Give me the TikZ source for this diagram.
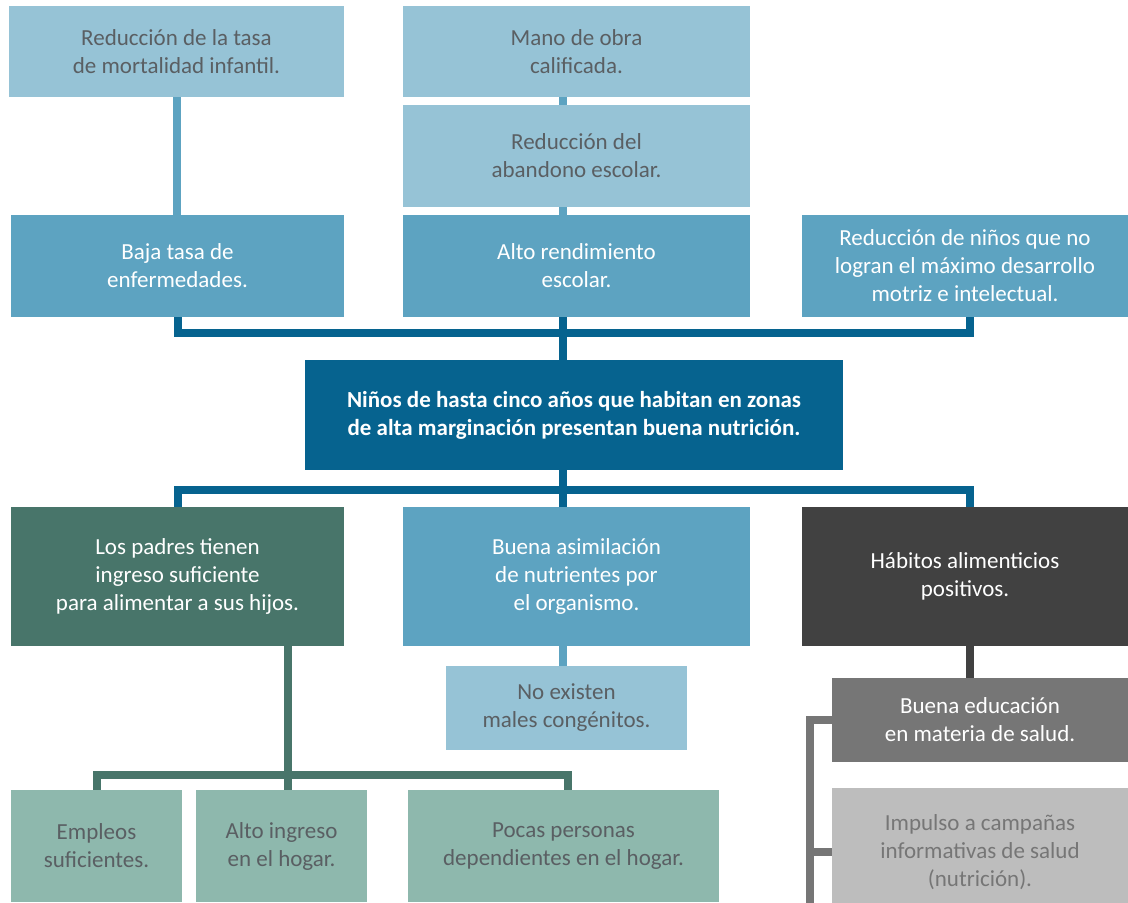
\documentclass[tikz,border=0pt]{standalone}
\usepackage{fontspec}
\setmainfont{Carlito}
\definecolor{lblue}{HTML}{96C3D6}
\definecolor{mblue}{HTML}{5DA3C1}
\definecolor{dblue}{HTML}{06638F}
\definecolor{dgreen}{HTML}{48756A}
\definecolor{lgreen}{HTML}{8EB8AD}
\definecolor{dgrey}{HTML}{414141}
\definecolor{mgrey}{HTML}{767676}
\definecolor{lgrey}{HTML}{BDBDBD}
\definecolor{txtgrey}{HTML}{5A5F63}
\begin{document}
\begin{tikzpicture}[x=0.5pt,y=-0.5pt,
  box/.style 2 args={rectangle,inner sep=0pt,align=center,
    minimum width=0.5pt*#1,minimum height=0.5pt*#2,
    font=\fontsize{11.5}{14}\selectfont},
  pale/.style={fill=lblue,text=txtgrey},
  mid/.style={fill=mblue,text=white},
  link/.style={line width=4pt,#1}]
  \clip (0,0) rectangle (1128,902);
  % spines of the tree
  \coordinate (spine) at (563,0);
  \coordinate (colR) at (970,0);
  \coordinate (busU) at (563,333);
  \coordinate (busD) at (563,490);
  \coordinate (gbus) at (288,775);
  \coordinate (gstem) at (810,910);

  % effects
  \node[box={335}{91},pale] (Ta) at (176.5,51.5) {Reducción de la tasa\\de mortalidad infantil.};
  \node[box={347}{91},pale] (Tb) at (576.5,51.5) {Mano de obra\\calificada.};
  \node[box={347}{102},pale] (Tc) at (576.5,156) {Reducción del\\abandono escolar.};
  \node[box={333}{102},mid] (Ma) at (177.5,266) {Baja tasa de\\enfermedades.};
  \node[box={347}{102},mid] (Mb) at (576.5,266) {Alto rendimiento\\escolar.};
  \node[box={326}{102},mid] (Mc) at (965,266) {Reducción de niños que no\\logran el máximo desarrollo\\motriz e intelectual.};

  % central objective
  \node[box={538}{110},fill=dblue,text=white,font=\fontsize{11.5}{14}\selectfont\bfseries] (Ctr) at (574,415)
    {Niños de hasta cinco años que habitan en zonas\\de alta marginación presentan buena nutrición.};

  % means
  \node[box={333}{139},fill=dgreen,text=white] (Ba) at (177.5,576.5) {Los padres tienen\\ingreso suficiente\\para alimentar a sus hijos.};
  \node[box={347}{139},mid] (Bb) at (576.5,576.5) {Buena asimilación\\de nutrientes por\\el organismo.};
  \node[box={326}{139},fill=dgrey,text=white] (Bc) at (965,576.5) {Hábitos alimenticios\\positivos.};
  \node[box={241}{84},pale] (Bd) at (566.5,708) {No existen\\males congénitos.};
  \node[box={171}{112},fill=lgreen,text=txtgrey] (Ca) at (96.5,846) {Empleos\\suficientes.};
  \node[box={171}{112},fill=lgreen,text=txtgrey] (Cb) at (281.5,846) {Alto ingreso\\en el hogar.};
  \node[box={311}{112},fill=lgreen,text=txtgrey] (Cc) at (563.5,846) {Pocas personas\\dependientes en el hogar.};
  \node[box={296}{84},fill=mgrey,text=white] (Da) at (980,720) {Buena educación\\en materia de salud.};
  \node[box={296}{128},fill=lgrey,text=mgrey] (Db) at (980,852) {Impulso a campañas\\informativas de salud\\(nutrición).};

  \draw[link=mblue] (Ta.south) -- (Ta.south |- Ma.north);
  \draw[link=mblue] (Tb.south -| spine) -- (Tc.north -| spine);
  \draw[link=mblue] (Tc.south -| spine) -- (Mb.north -| spine);
  \draw[link=dblue] (Ma.south) |- (busU) -| (Mc.south -| colR);
  \draw[link=dblue] (Mb.south -| spine) -- (Ctr.north -| spine);
  \draw[link=dblue] (Ctr.south -| spine) -- (Bb.north -| spine);
  \draw[link=dblue] (Ba.north) |- (busD) -| (Bc.north -| colR);
  \draw[link=mblue] (Bb.south -| spine) -- (Bd.north -| spine);
  \draw[link=dgreen] (Ba.south -| gbus) -- (gbus);
  \draw[link=dgreen] (Ca.north) |- (gbus) -| (Cc.north -| 568,0);
  \draw[link=dgreen] (gbus) -- (Cb.north -| gbus);
  \draw[link=dgrey] (Bc.south -| colR) -- (Da.north -| colR);
  \draw[link=mgrey] (Da.west) -| (gstem);
  \draw[link=mgrey] (Db.west) -- (Db.west -| gstem);
\end{tikzpicture}
\end{document}
